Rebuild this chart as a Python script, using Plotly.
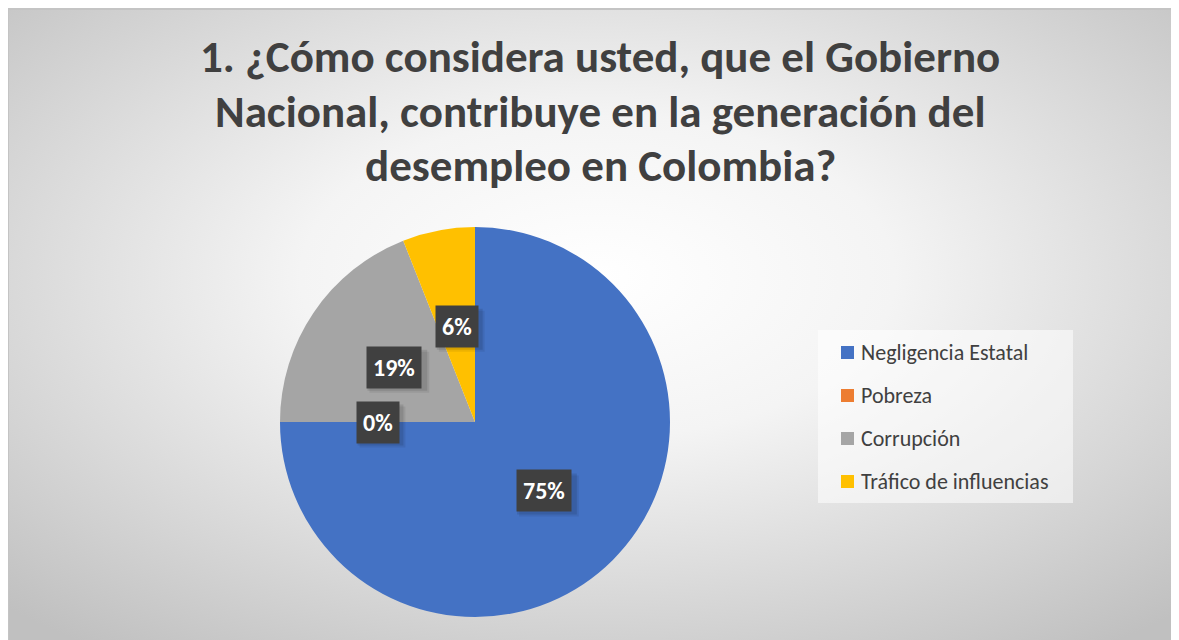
import base64, math
import plotly.graph_objects as go

categories = ["Negligencia Estatal", "Pobreza", "Corrupción", "Tráfico de influencias"]
values = [75, 0, 19, 6]
colors = ["#4472C4", "#ED7D31", "#A5A5A5", "#FFC000"]
title_lines = ["1. ¿Cómo considera usted, que el Gobierno",
               "Nacional, contribuye en la generación del",
               "desempleo en Colombia?"]

W, H = 1179, 640
FONT = "Carlito, Lato, 'Open Sans', sans-serif"
TXT = "#404040"


def px_x(x):
    return x / W


def px_y(y):
    return 1 - y / H


# pie geometry (pixels in figure space)
cx, cy, R = 467, 414, 195

fig = go.Figure()
fig.add_trace(go.Pie(
    labels=categories, values=values, sort=False, direction="clockwise", rotation=0,
    marker=dict(colors=colors, line=dict(width=0)), textinfo="none", showlegend=False,
    hoverinfo="label+percent",
    domain=dict(x=[(cx - R) / W, (cx + R) / W], y=[(H - cy - R) / H, (H - cy + R) / H]),
))

# background gradient
svg = ("<svg xmlns='http://www.w3.org/2000/svg' width='1179' height='640' preserveAspectRatio='none'>"
       "<defs><radialGradient id='g' cx='50%' cy='42%' r='72%'>"
       "<stop offset='0' stop-color='#ffffff'/><stop offset='0.35' stop-color='#f4f4f4'/>"
       "<stop offset='1' stop-color='#c0c0c0'/></radialGradient></defs>"
       "<rect width='100%' height='100%' fill='url(#g)'/></svg>")
src = "data:image/svg+xml;base64," + base64.b64encode(svg.encode()).decode()
fig.add_layout_image(dict(source=src, xref="paper", yref="paper", x=0, y=1,
                          sizex=1, sizey=1, sizing="stretch",
                          xanchor="left", yanchor="top", layer="below"))
shapes = [dict(type="line", xref="paper", yref="paper", x0=0, x1=1, y0=px_y(1), y1=px_y(1),
               line=dict(color="#c4c4c4", width=2)),
          dict(type="line", xref="paper", yref="paper", x0=px_x(0.5), x1=px_x(0.5), y0=0, y1=1,
               line=dict(color="#c4c4c4", width=1))]

annotations = []
# title
for i, line in enumerate(title_lines):
    annotations.append(dict(text=line, xref="paper", yref="paper", x=px_x(592),
                            y=px_y(49 + i * 54.5), xanchor="center", yanchor="middle",
                            showarrow=False, font=dict(family=FONT, size=45, color=TXT, weight="bold")))

# data labels computed from values
total = sum(values)
cum = 0
LFS, PAD = 24, 6
for v in values:
    mid = (cum + v / 2) / total * 2 * math.pi
    cum += v
    d = 0.5 * R
    lx = cx + d * math.sin(mid)
    ly = cy - d * math.cos(mid)
    txt = f"{round(v / total * 100)}%"
    bw = 0.58 * LFS * (len(txt) - 1) + 0.83 * LFS + 2 * PAD
    bh = 41
    for off, alpha in ((3, 0.10), (5, 0.07)):
        shapes.append(dict(type="rect", xref="paper", yref="paper",
                           x0=px_x(lx - bw / 2 + off), x1=px_x(lx + bw / 2 + off),
                           y0=px_y(ly + bh / 2 + off), y1=px_y(ly - bh / 2 + off),
                           fillcolor=f"rgba(0,0,0,{alpha})", line=dict(width=0)))
    annotations.append(dict(
        text=txt, xref="paper", yref="paper", x=px_x(lx), y=px_y(ly),
        xanchor="center", yanchor="middle", showarrow=False,
        bgcolor="#404040", borderpad=PAD,
        font=dict(family=FONT, size=LFS, weight="bold", color="white")))

# custom legend
lx0, lx1, ly0, ly1 = 810, 1065, 322, 495
shapes.append(dict(type="rect", xref="paper", yref="paper", x0=px_x(lx0), x1=px_x(lx1),
                   y0=px_y(ly1), y1=px_y(ly0), fillcolor="rgba(255,255,255,0.55)",
                   line=dict(width=0), layer="below"))
for i, (c, col) in enumerate(zip(categories, colors)):
    yc = 344.5 + i * 43
    shapes.append(dict(type="rect", xref="paper", yref="paper", x0=px_x(833), x1=px_x(846),
                       y0=px_y(yc + 6.5), y1=px_y(yc - 6.5), fillcolor=col, line=dict(width=0)))
    annotations.append(dict(text=c, xref="paper", yref="paper", x=px_x(851), y=px_y(yc),
                            xanchor="left", yanchor="middle", showarrow=False,
                            font=dict(family=FONT, size=22, color=TXT)))

fig.update_layout(width=W, height=H, margin=dict(l=0, r=0, t=0, b=0),
                  paper_bgcolor="white", plot_bgcolor="white",
                  shapes=shapes, annotations=annotations, showlegend=False)
fig.write_html("out.html")
